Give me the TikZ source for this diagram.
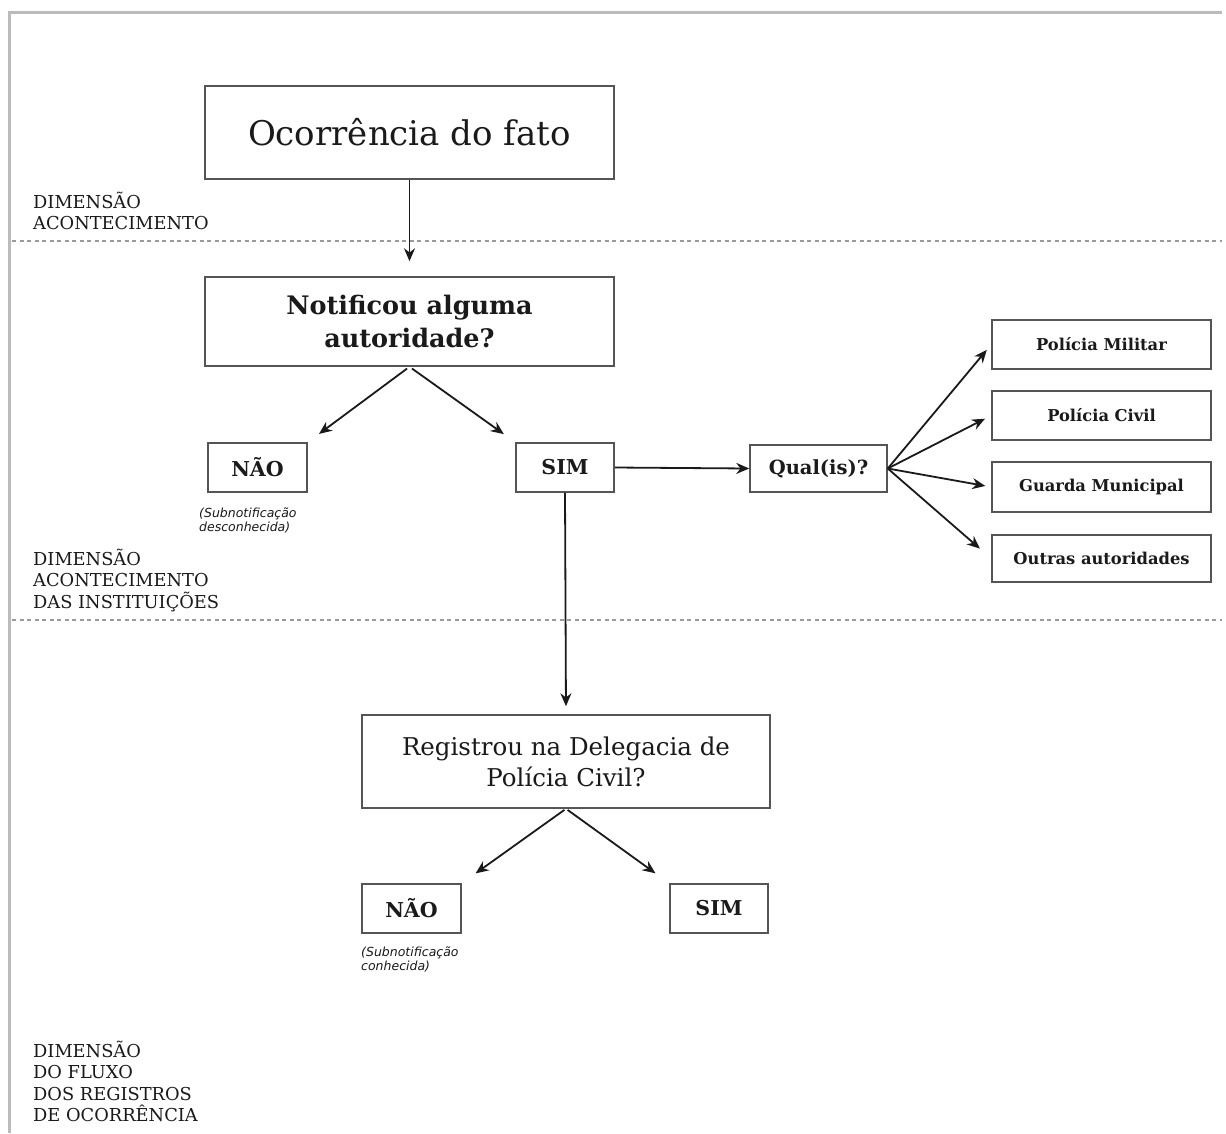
\documentclass[tikz,border=0pt]{standalone}
\usepackage{fontspec}
\setmainfont{DejaVu Serif}
\newfontfamily\notefont{DejaVu Sans}
\usetikzlibrary{arrows.meta}
\definecolor{boxline}{HTML}{555555}
\definecolor{txt}{HTML}{1A1A1A}
\definecolor{frame}{HTML}{BBBBBB}
\definecolor{dots}{HTML}{9A9A9A}
\tikzset{
  box/.style={draw=boxline, line width=1.5pt, rectangle, inner sep=0pt, align=center, text=txt},
  bigtxt/.style={font=\fontsize{34}{40}\selectfont},
  notiftxt/.style={font=\bfseries\fontsize{25.5}{33}\selectfont},
  regtxt/.style={font=\fontsize{24.5}{31}\selectfont},
  smalltxt/.style={font=\bfseries\fontsize{20.5}{24}\selectfont},
  qualtxt/.style={font=\bfseries\fontsize{19.5}{24}\selectfont},
  tinytxt/.style={font=\bfseries\fontsize{16.3}{19}\selectfont},
  dimlabel/.style={anchor=north west, inner sep=0pt, align=left, text=txt, font=\fontsize{17.8}{21.3}\selectfont},
  notelabel/.style={anchor=north west, inner sep=0pt, align=left, text=txt, font=\notefont\itshape\fontsize{12.5}{14}\selectfont},
  arr/.style={draw=txt, line width=1.8pt, -{Stealth[length=13pt,width=11pt]}},
  sep/.style={draw=dots, line width=1.4pt, dash pattern=on 4pt off 3.5pt}
}
\begin{document}
\begin{tikzpicture}[x=1pt,y=-1pt]
\useasboundingbox (0,0) rectangle (1226,1133);
\fill[white] (0,0) rectangle (1226,1133);
% frame
\draw[frame, line width=3pt] (8,12.5) -- (1222,12.5);
\draw[frame, line width=3pt] (9.5,11) -- (9.5,1133);
% separators
\draw[sep] (12,241) -- (1222,241);
\draw[sep] (12,620) -- (1222,620);
% dimension labels
\node[dimlabel] (d1) at (33,192) {DIMENSÃO\\ACONTECIMENTO};
\node[dimlabel] (d2) at (33,549) {DIMENSÃO\\ACONTECIMENTO\\DAS INSTITUIÇÕES};
\node[dimlabel] (d3) at (33,1041) {DIMENSÃO\\DO FLUXO\\DOS REGISTROS\\DE OCORRÊNCIA};
% boxes
\node[box, bigtxt, minimum width=409pt, minimum height=93pt] (ocor) at (409.5,132.5) {Ocorrência do fato};
\node[box, notiftxt, minimum width=409pt, minimum height=89pt] (notif) at (409.5,321.5) {Notificou alguma\\autoridade?};
\node[box, smalltxt, minimum width=99pt, minimum height=49pt] (nao1) at (257.5,467.5) {NÃO};
\node[box, smalltxt, minimum width=98pt, minimum height=49pt] (sim1) at (565,467.5) {SIM};
\node[box, qualtxt, minimum width=137pt, minimum height=47pt] (qual) at (818.5,468.5) {Qual(is)?};
\node[box, tinytxt, minimum width=219pt, minimum height=49pt] (pm) at (1101.5,344.5) {Polícia Militar};
\node[box, tinytxt, minimum width=219pt, minimum height=49pt] (pc) at (1101.5,415.5) {Polícia Civil};
\node[box, tinytxt, minimum width=219pt, minimum height=50pt] (gm) at (1101.5,487) {Guarda Municipal};
\node[box, tinytxt, minimum width=219pt, minimum height=47pt] (oa) at (1101.5,558.5) {Outras autoridades};
\node[box, regtxt, minimum width=408pt, minimum height=93pt] (reg) at (566,761.5) {Registrou na Delegacia de\\Polícia Civil?};
\node[box, smalltxt, minimum width=99pt, minimum height=49pt] (nao2) at (411.5,908.5) {NÃO};
\node[box, smalltxt, minimum width=98pt, minimum height=49pt] (sim2) at (719,908.5) {SIM};
% notes
\node[notelabel] (n1) at (199,508) {(Subnotificação\\desconhecida)};
\node[notelabel] (n2) at (361,947) {(Subnotificação\\conhecida)};
% connectors
\draw[arr, shorten >=15pt] (ocor.south) -- (notif.north);
\draw[arr, shorten <=3pt, shorten >=14pt] (notif.south) -- (nao1.north east);
\draw[arr, shorten <=3pt, shorten >=14pt] (notif.south) -- (sim1.north west);
\draw[arr] (sim1.east) -- (qual.west);
\draw[arr, shorten >=8pt] (sim1.south) -- (reg.north);
\draw[arr, shorten >=7pt] (qual.east) -- (pm.west);
\draw[arr, shorten >=7pt] (qual.east) -- (pc.west);
\draw[arr, shorten >=6pt] (qual.east) -- (gm.west);
\draw[arr, shorten >=15pt] (qual.east) -- (oa.west);
\draw[arr, shorten <=2pt, shorten >=17pt] (reg.south) -- (nao2.north east);
\draw[arr, shorten <=2pt, shorten >=17pt] (reg.south) -- (sim2.north west);
\end{tikzpicture}
\end{document}
